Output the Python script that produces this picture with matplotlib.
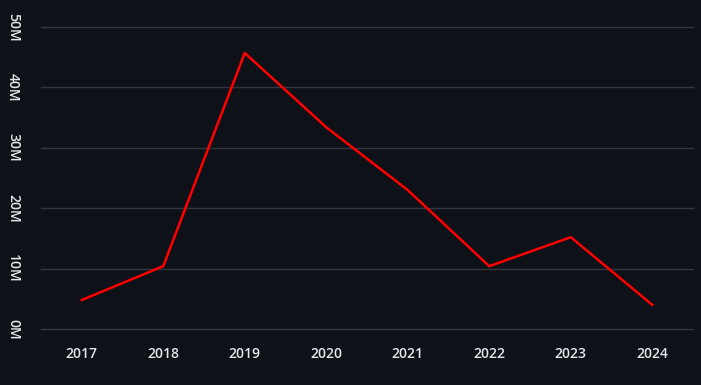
import matplotlib.pyplot as plt
from matplotlib.ticker import FuncFormatter

# 数据
years = ["2017", "2018", "2019", "2020", "2021", "2022", "2023", "2024"]
values = [4.8e6, 10.4e6, 45.7e6, 33.4e6, 23.0e6, 10.4e6, 15.2e6, 4.0e6]
y_ticks = [0, 10e6, 20e6, 30e6, 40e6, 50e6]

bg = "#0e1117"
text_color = "#e6e7ea"
grid_color = "#34363e"

plt.rcParams['font.family'] = ['Open Sans', 'DejaVu Sans']

fig = plt.figure(figsize=(7.01, 3.85), dpi=100, facecolor=bg)
ax = fig.add_axes([41 / 701, 56 / 385, 652 / 701, 302 / 385], facecolor=bg)

x = range(len(years))
ax.plot(x, values, color="#ff0000", linewidth=1.8)

ax.set_xlim(-0.5, len(years) - 0.5)
ax.set_ylim(0, 50e6)
ax.set_xticks(list(x))
ax.set_xticklabels(years)
ax.set_yticks(y_ticks)
ax.yaxis.set_major_formatter(FuncFormatter(lambda v, p: f"{v / 1e6:.0f}M"))

# 网格线
ax.grid(axis='y', color=grid_color, linewidth=1)
for gl in ax.get_ygridlines():
    gl.set_clip_on(False)
ax.set_axisbelow(True)
for s in ax.spines.values():
    s.set_visible(False)
ax.tick_params(axis='both', length=0, colors=text_color, labelsize=10)
ax.tick_params(axis='x', pad=13)
ax.tick_params(axis='y', pad=20)
for lbl in ax.get_xticklabels() + ax.get_yticklabels():
    lbl.set_fontweight('semibold')
for lbl in ax.get_yticklabels():
    lbl.set_rotation(-90)
    lbl.set_va('center')
    lbl.set_ha('center')

fig.savefig("out.png", dpi=100, facecolor=bg)
